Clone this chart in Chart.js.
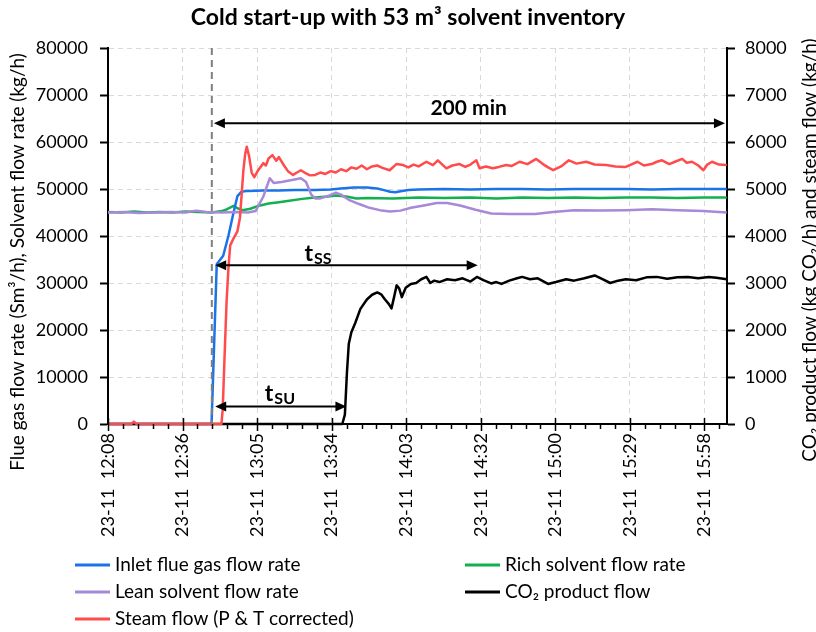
<!DOCTYPE html>
<html>
<head>
<meta charset="utf-8">
<script src="https://cdn.jsdelivr.net/npm/chart.js@4.4.1/dist/chart.umd.min.js"></script>
<style>
  html, body { margin: 0; padding: 0; background: #fff; }
  canvas { display: block; }
</style>
</head>
<body>
<canvas id="chart" width="816" height="632"></canvas>
<script>
const FONT = 'Lato, "Liberation Sans", sans-serif';

// x axis: minutes after 23-11 12:08
const xMax = 239.1;
const xTickMinutes = [0, 28.8, 57.6, 86.4, 115.2, 144, 172.8, 201.6, 230.4];
const xTickLabels = ['23-11  12:08', '23-11  12:36', '23-11  13:05', '23-11  13:34', '23-11  14:03',
                     '23-11  14:32', '23-11  15:00', '23-11  15:29', '23-11  15:58'];
const minorStep = 5.76;

// left axis series (Sm3/h, kg/h)
const inletT = [0, 40, 42, 44.5, 46.5, 48.5, 50, 51.5, 54, 60, 66, 72, 80, 86, 90, 95, 100, 104, 107, 109,
                111, 113, 116, 120, 130, 140, 150, 160, 170, 180, 190, 200, 210, 220, 230, 239];
const inletV = [0, 0, 34000, 35800, 40000, 45000, 48500, 49400, 49600, 49700, 49700, 49800, 49800, 49900, 50100, 50300, 50300, 50100, 49700, 49400,
                49300, 49500, 49800, 49900, 50000, 49900, 50000, 50000, 49900, 50000, 50000, 50000, 49900, 50000, 50000, 50000];

const richT = [0, 5, 10, 15, 20, 25, 30, 35, 40, 44, 46, 48.5, 50, 52, 55, 58, 62, 66, 70, 75,
               80, 85, 88, 92, 96, 100, 110, 120, 130, 140, 150, 160, 170, 180, 190, 200, 210, 220, 230, 239];
const richV = [45100, 45000, 45200, 45000, 45100, 45000, 45200, 45100, 45000, 45300, 45700, 46400, 45900, 45500, 45800, 46400, 46900, 47200, 47500, 47900,
               48200, 48400, 48600, 48400, 48000, 48100, 48000, 48200, 48100, 48200, 48000, 48200, 48100, 48200, 48100, 48200, 48200, 48100, 48200, 48200];

const leanT = [0, 6, 12, 18, 24, 30, 34, 38, 44, 50, 54, 57, 60, 62.5, 64, 67, 71, 74.5, 76.5, 78.5,
               80, 82, 85, 88, 90, 93, 97, 101, 105, 109, 113, 117, 122, 127, 131, 136, 142, 148, 155, 165,
               172, 180, 190, 200, 210, 220, 230, 239];
const leanV = [45000, 45100, 44900, 45000, 45100, 45000, 45400, 45100, 45000, 45100, 45000, 45300, 48400, 52300, 51300, 51500, 51900, 52300, 51500, 48800,
               48000, 48000, 48500, 49200, 48800, 47700, 46800, 46000, 45500, 45200, 45400, 46000, 46500, 47000, 47000, 46500, 45600, 44800, 44700, 44700,
               45100, 45500, 45400, 45500, 45700, 45500, 45300, 45000];

// right axis series (kg/h)
const co2T = [0, 90.5, 91.5, 92.3, 93, 94, 95.5, 97.5, 100, 102, 104, 105.5, 107, 108.5, 109.5, 110.5, 111.5, 112.5, 113.5, 115,
              117, 119, 121, 123, 124.5, 126, 128, 131, 134, 137, 140, 142.5, 145, 148, 150, 152, 155, 158, 160, 163,
              166, 170, 173, 177, 180, 184, 188, 191, 194, 197, 200, 204, 208, 212, 216, 220, 224, 228, 232, 235, 239];
const co2V = [0, 0, 200, 1100, 1700, 1950, 2150, 2450, 2650, 2750, 2800, 2760, 2650, 2550, 2460, 2700, 2950, 2880, 2700, 2900,
              2980, 3000, 3080, 3130, 3000, 3050, 3020, 3080, 3060, 3100, 3030, 3130, 3060, 2990, 3020, 2980, 3050, 3100, 3130, 3080,
              3100, 2980, 3020, 3080, 3050, 3100, 3160, 3080, 3000, 3050, 3080, 3060, 3120, 3130, 3090, 3120, 3130, 3100, 3130, 3110, 3080];

const steamT = [0, 9, 10, 11, 43.8, 44.3, 45, 45.8, 46.5, 47.2, 48.5, 50, 51, 52.3, 53, 53.6, 54.5, 55.5, 56.5, 58,
                60, 61, 62, 63.5, 65, 66, 68, 69.5, 71.5, 73, 74.5, 76.5, 78, 80, 82, 84, 86, 88, 90, 92,
                94, 96, 98, 100, 102, 104, 106, 108.8, 111.4, 114, 116, 118, 120, 123, 125.5, 127.4, 130.7, 133, 135.8, 138,
                140, 142.3, 143.5, 146, 148.6, 151, 153.8, 156, 159, 162, 165.4, 168, 170, 172, 175, 178, 181, 184.7, 188, 192.4,
                196, 200, 202, 204.5, 207, 210, 212, 214, 216.8, 219, 221.8, 223.5, 225.6, 228, 230, 231.5, 233.3, 236, 239];
const steamV = [0, 0, 50, 0, 0, 300, 1400, 2600, 3300, 3800, 3950, 4100, 4400, 5400, 5750, 5900, 5700, 5350, 5250, 5400,
                5550, 5500, 5650, 5720, 5600, 5680, 5500, 5380, 5300, 5350, 5400, 5330, 5290, 5300, 5350, 5320, 5380, 5350, 5420, 5380,
                5460, 5430, 5500, 5420, 5480, 5500, 5450, 5400, 5530, 5510, 5460, 5520, 5480, 5580, 5510, 5610, 5440, 5500, 5530, 5470,
                5520, 5610, 5440, 5480, 5440, 5470, 5510, 5490, 5580, 5530, 5640, 5530, 5460, 5400, 5480, 5610, 5540, 5580, 5520, 5510,
                5480, 5470, 5520, 5580, 5500, 5530, 5580, 5610, 5530, 5580, 5640, 5560, 5580, 5500, 5400, 5520, 5580, 5520, 5510];

// annotations (x in minutes, y in left-axis units)
const startT = 40.1;
const arrowFrom = [40.9, 41.4, 41.4];
const arrowTo = [238.3, 142.8, 92.1];
const arrowLevel = [64000, 33800, 3700];
const noteMain = ['200 min', 't', 't'];
const noteSub = ['', 'SS', 'SU'];
const noteT = [139.3, 81.1, 66.4];
const noteV = [65800, 34600, 4800];

function pts(ts, vs) {
  return ts.map((t, i) => ({x: t, y: vs[i]}));
}

function arrowHead(ctx, x, y, dir) {
  ctx.beginPath();
  ctx.moveTo(x, y);
  ctx.lineTo(x + dir * 11, y - 5);
  ctx.lineTo(x + dir * 11, y + 5);
  ctx.closePath();
  ctx.fill();
}

const extras = {
  id: 'extras',
  afterDatasetsDraw(chart) {
    const {ctx, chartArea: a, scales: {x, y}} = chart;
    ctx.save();
    // start of run
    const sx = x.getPixelForValue(startT);
    ctx.strokeStyle = '#7f7f7f';
    ctx.lineWidth = 2;
    ctx.setLineDash([7, 5]);
    ctx.beginPath();
    ctx.moveTo(sx, a.top);
    ctx.lineTo(sx, a.bottom);
    ctx.stroke();
    ctx.setLineDash([]);

    // double arrows
    ctx.strokeStyle = '#000';
    ctx.fillStyle = '#000';
    ctx.lineWidth = 2;
    for (let i = 0; i < arrowFrom.length; i++) {
      const x1 = x.getPixelForValue(arrowFrom[i]);
      const x2 = x.getPixelForValue(arrowTo[i]);
      const yy = y.getPixelForValue(arrowLevel[i]);
      ctx.beginPath();
      ctx.moveTo(x1 + 8, yy);
      ctx.lineTo(x2 - 8, yy);
      ctx.stroke();
      arrowHead(ctx, x1, yy, 1);
      arrowHead(ctx, x2, yy, -1);
    }

    // labels
    ctx.textBaseline = 'alphabetic';
    for (let i = 0; i < noteMain.length; i++) {
      const cx = x.getPixelForValue(noteT[i]);
      const by = y.getPixelForValue(noteV[i]);
      if (!noteSub[i]) {
        ctx.font = 'bold 21px ' + FONT;
        ctx.textAlign = 'center';
        ctx.fillText(noteMain[i], cx, by);
      } else {
        ctx.font = 'bold 23px ' + FONT;
        const w1 = ctx.measureText(noteMain[i]).width;
        ctx.font = 'bold 16px ' + FONT;
        const w2 = ctx.measureText(noteSub[i]).width;
        const left = cx - (w1 + w2 + 1) / 2;
        ctx.textAlign = 'left';
        ctx.font = 'bold 23px ' + FONT;
        ctx.fillText(noteMain[i], left, by);
        ctx.font = 'bold 16px ' + FONT;
        ctx.fillText(noteSub[i], left + w1 + 1, by + 3);
      }
    }
    ctx.restore();
  },
  afterDraw(chart) {
    const {ctx, chartArea: a, scales: {x}} = chart;
    ctx.save();
    // major and minor ticks on the time axis
    ctx.strokeStyle = '#000';
    ctx.lineWidth = 1.5;
    for (let k = 0; k * minorStep <= xMax; k++) {
      const px = Math.round(x.getPixelForValue(k * minorStep)) + 0.5;
      const major = k % 5 === 0;
      ctx.beginPath();
      ctx.moveTo(px, major ? a.bottom - 6 : a.bottom);
      ctx.lineTo(px, a.bottom + (major ? 7 : 5));
      ctx.stroke();
    }

    // axis titles
    ctx.fillStyle = '#000';
    ctx.font = '19px ' + FONT;
    ctx.textAlign = 'center';
    ctx.textBaseline = 'middle';
    ctx.save();
    ctx.translate(18, 262);
    ctx.rotate(-Math.PI / 2);
    ctx.fillText('Flue gas flow rate (Sm³/h), Solvent flow rate (kg/h)', 0, 0);
    ctx.restore();
    ctx.save();
    ctx.translate(810, 250);
    ctx.rotate(-Math.PI / 2);
    ctx.fillText('CO₂ product flow (kg CO₂/h) and steam flow (kg/h)', 0, 0);
    ctx.restore();

    // legend, two columns
    const cols = [75, 465];
    const rows = [565, 592, 619];
    ctx.textAlign = 'left';
    chart.data.datasets.forEach((ds, i) => {
      const lx = cols[i % 2];
      const ly = rows[Math.floor(i / 2)];
      ctx.strokeStyle = ds.borderColor;
      ctx.lineWidth = 3;
      ctx.beginPath();
      ctx.moveTo(lx, ly);
      ctx.lineTo(lx + 35, ly);
      ctx.stroke();
      ctx.fillStyle = '#000';
      ctx.fillText(ds.label, lx + 40, ly);
    });
    ctx.restore();
  }
};

const tickFont = {family: FONT, size: 18};

new Chart(document.getElementById('chart'), {
  type: 'line',
  data: {
    datasets: [
      {label: 'Inlet flue gas flow rate', data: pts(inletT, inletV), borderColor: '#1a73e8', yAxisID: 'y', order: 4},
      {label: 'Rich solvent flow rate', data: pts(richT, richV), borderColor: '#13b04f', yAxisID: 'y', order: 5},
      {label: 'Lean solvent flow rate', data: pts(leanT, leanV), borderColor: '#a888d8', yAxisID: 'y', order: 3},
      {label: 'CO₂ product flow', data: pts(co2T, co2V), borderColor: '#000000', yAxisID: 'y2', order: 2},
      {label: 'Steam flow (P & T corrected)', data: pts(steamT, steamV), borderColor: '#ff4b4b', yAxisID: 'y2', order: 1}
    ]
  },
  options: {
    responsive: false,
    animation: false,
    events: [],
    layout: {padding: {left: 0, right: 0, top: 0, bottom: 90}},
    elements: {
      line: {borderWidth: 2.5, tension: 0, fill: false, borderJoinStyle: 'round'},
      point: {radius: 0}
    },
    datasets: {line: {clip: 4}},
    plugins: {
      legend: {display: false},
      tooltip: {enabled: false},
      title: {
        display: true,
        text: 'Cold start-up with 53 m³ solvent inventory',
        color: '#000',
        font: {family: FONT, size: 23, weight: 'bold'},
        padding: {top: 4, bottom: 16.4}
      }
    },
    scales: {
      x: {
        type: 'linear',
        min: 0,
        max: xMax,
        afterBuildTicks: s => { s.ticks = xTickMinutes.map(v => ({value: v})); },
        afterFit: s => { s.height = 632 - 90 - 424; },
        grid: {color: '#d9d9d9', lineWidth: 1, drawTicks: false},
        border: {display: true, color: '#000', width: 2, dash: [5, 4]},
        ticks: {
          autoSkip: false, minRotation: 90, maxRotation: 90, padding: 9,
          color: '#000', font: tickFont,
          callback: (v, i) => xTickLabels[i]
        }
      },
      y: {
        position: 'left',
        min: 0,
        max: 80000,
        afterFit: s => { s.width = 108; },
        ticks: {stepSize: 10000, padding: 12, color: '#000', font: tickFont, callback: v => String(v)},
        grid: {color: '#d9d9d9', lineWidth: 1, tickColor: '#000', tickLength: 8, tickWidth: 2},
        border: {color: '#000', width: 2, dash: [5, 4]}
      },
      y2: {
        position: 'right',
        min: 0,
        max: 8000,
        afterFit: s => { s.width = 89; },
        ticks: {stepSize: 1000, padding: 10, color: '#000', font: tickFont, callback: v => String(v)},
        grid: {drawOnChartArea: false, tickColor: '#000', tickLength: 8, tickWidth: 2},
        border: {color: '#000', width: 2}
      }
    }
  },
  plugins: [extras]
});
</script>
</body>
</html>
